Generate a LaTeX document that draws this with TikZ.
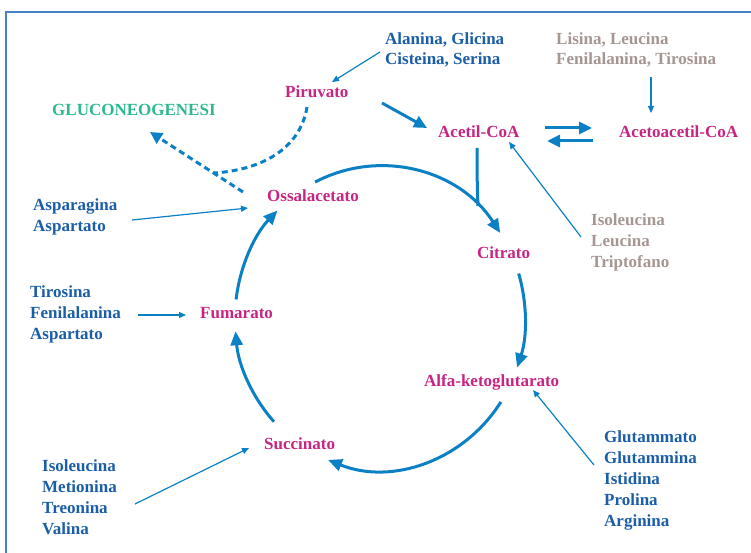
\documentclass[tikz,border=0pt]{standalone}
\usepackage{fontspec}
\setmainfont{Liberation Serif}
\usetikzlibrary{arrows.meta}
\definecolor{mag}{RGB}{200,36,130}
\definecolor{txtblue}{RGB}{27,94,168}
\definecolor{arrblue}{RGB}{12,128,196}
\definecolor{txtgray}{RGB}{165,150,145}
\definecolor{gluco}{RGB}{44,185,145}
\definecolor{frameblue}{RGB}{70,130,195}
\begin{document}
\begin{tikzpicture}[x=1pt,y=1pt,
  lbl/.style={inner sep=0pt, anchor=base west, align=left,
    font=\fontsize{17}{21}\selectfont\bfseries},
  met/.style={lbl, text=mag},
  amino/.style={lbl, text=txtblue},
  grayam/.style={lbl, text=txtgray},
  thinarrow/.style={draw=arrblue, line width=1.2pt, -{Triangle[length=7pt,width=6pt]}},
  thickarrow/.style={draw=arrblue, line width=3pt, -{Triangle[length=13pt,width=12pt]}},
  cyclearrow/.style={draw=arrblue, line width=3pt, -{Triangle[length=14pt,width=12pt]}},
  cycleline/.style={draw=arrblue, line width=3pt},
  dashline/.style={draw=arrblue, line width=3pt, dash pattern=on 6pt off 4pt},
  dasharrow/.style={dashline, -{Triangle[length=12pt,width=12pt]}},
  framestyle/.style={draw=frameblue, line width=2pt}]
\useasboundingbox (0,0) rectangle (751,-553);
\draw[framestyle] (6,-553) -- (6,-12) -- (751,-12);

% metabolites
\node[met] (piru) at (285,-97.5) {Piruvato};
\node[met] (acet) at (438,-137.5) {Acetil-CoA};
\node[met] (acac) at (619,-137.5) {Acetoacetil-CoA};
\node[met] (ossa) at (267,-201.5) {Ossalacetato};
\node[met] (citr) at (477,-258) {Citrato};
\node[met] (alfa) at (424,-386) {Alfa-ketoglutarato};
\node[met] (succ) at (264,-449) {Succinato};
\node[met] (fuma) at (200,-318.3) {Fumarato};
\node[lbl, text=gluco] (gluc) at (52,-115.7) {GLUCONEOGENESI};

% amino acids (anchored at the baseline of their last line)
\node[amino, font=\fontsize{17}{20}\selectfont\bfseries] (ala) at (385,-65) {Alanina, Glicina\\Cisteina, Serina};
\node[grayam, font=\fontsize{17}{20}\selectfont\bfseries] (lis) at (556,-65) {Lisina, Leucina\\Fenilalanina, Tirosina};
\node[amino] (asp) at (33,-231.7) {Asparagina\\Aspartato};
\node[amino] (tir) at (30,-339.3) {Tirosina\\Fenilalanina\\Aspartato};
\node[amino] (iso) at (42,-534.7) {Isoleucina\\Metionina\\Treonina\\Valina};
\node[grayam] (ilt) at (591,-267) {Isoleucina\\Leucina\\Triptofano};
\node[amino] (glu) at (604,-526.7) {Glutammato\\Glutammina\\Istidina\\Prolina\\Arginina};

% connector end points
\coordinate (alaS) at (380,-52);   \coordinate (piruT) at (332,-82);
\coordinate (piruS) at (382,-103); \coordinate (acetT) at (427,-128);
\coordinate (fwS) at (545,-128);   \coordinate (fwT) at (592,-128);
\coordinate (bwS) at (593,-141);   \coordinate (bwT) at (547,-141);
\coordinate (lisS) at (651,-77);   \coordinate (acacT) at (651,-113);
\coordinate (iltS) at (581,-237);  \coordinate (acetT2) at (509,-142);
\coordinate (aspS) at (132,-220);  \coordinate (ossaT) at (248,-208);
\coordinate (tirS) at (138,-315);  \coordinate (fumaT) at (186,-315);
\coordinate (isoS) at (135,-504);  \coordinate (succT) at (249,-448);
\coordinate (gluS) at (594,-465);  \coordinate (alfaT) at (533,-390);
\coordinate (piruD) at (307,-107); \coordinate (junc) at (214,-173);
\coordinate (ossaD) at (243,-192); \coordinate (glucT) at (150,-132);
\coordinate (acetD) at (477,-148); \coordinate (merge) at (478,-206);
\coordinate (C) at (380,-318);

% thin arrows
\draw[thinarrow] (alaS) -- (piruT);
\draw[thinarrow] (lisS) -- (acacT);
\draw[thinarrow] (iltS) -- (acetT2);
\draw[thinarrow] (aspS) -- (ossaT);
\draw[thinarrow] (tirS) -- (fumaT);
\draw[thinarrow] (isoS) -- (succT);
\draw[thinarrow] (gluS) -- (alfaT);

% thick arrows
\draw[thickarrow] (piruS) -- (acetT);
\draw[thickarrow] (fwS) -- (fwT);
\draw[thickarrow] (bwS) -- (bwT);

% gluconeogenesis (dashed)
\draw[dashline] (piruD) .. controls (300,-150) and (260,-170) .. (junc);
\draw[dasharrow] (ossaD) -- (glucT);

% acetyl-CoA into the cycle
\draw[cycleline] (acetD) .. controls (477,-180) and (477.5,-195) .. (merge);

% Krebs cycle
\draw[cyclearrow] (C) ++(116.6:145pt and 152pt) arc[start angle=116.6, end angle=34, x radius=145pt, y radius=152pt];
\draw[cyclearrow] (C) ++(17:145pt and 152pt) arc[start angle=17, end angle=-19, x radius=145pt, y radius=152pt];
\draw[cyclearrow] (C) ++(-33.5:145pt and 152pt) arc[start angle=-33.5, end angle=-111, x radius=145pt, y radius=152pt];
\draw[cyclearrow] (C) ++(-137:145pt and 152pt) arc[start angle=-137, end angle=-175, x radius=145pt, y radius=152pt];
\draw[cyclearrow] (C) ++(173:145pt and 152pt) arc[start angle=173, end angle=135, x radius=145pt, y radius=152pt];
\end{tikzpicture}
\end{document}
